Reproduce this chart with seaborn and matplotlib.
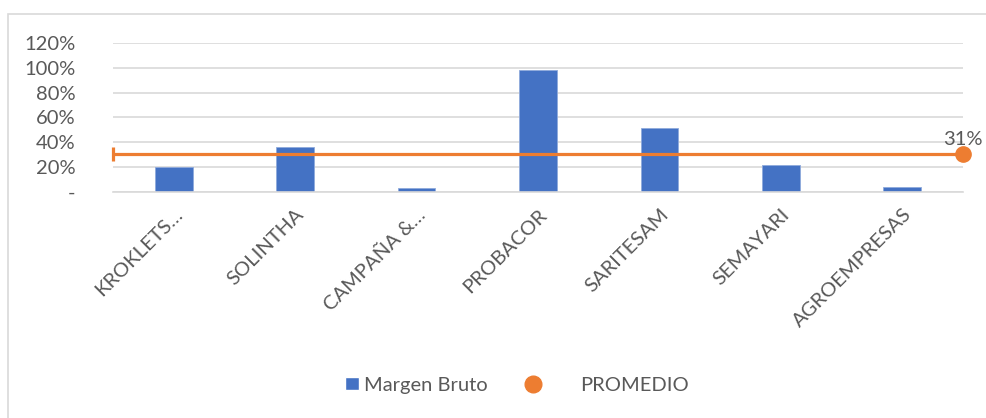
import numpy as np
import pandas as pd
import seaborn as sns
import matplotlib
matplotlib.use("Agg")
import matplotlib.pyplot as plt
from matplotlib.lines import Line2D
from matplotlib.patches import Rectangle, Patch

empresas = ["KROKLETS…", "SOLINTHA", "CAMPAÑA &…", "PROBACOR",
            "SARITESAM", "SEMAYARI", "AGROEMPRESAS"]
margen_bruto = [0.205, 0.365, 0.03, 0.985, 0.515, 0.215, 0.04]
promedio = 0.31
yticks = [0, 0.2, 0.4, 0.6, 0.8, 1.0, 1.2]
ytick_labels = ["-", "20%", "40%", "60%", "80%", "100%", "120%"]

AZUL = "#4472C4"
NARANJA = "#ED7D31"
GRIS_TXT = "#595959"
GRIS_LIN = "#D9D9D9"
FS = 14.5

sns.set_style("white")
plt.rcParams["font.family"] = ["Lato", "DejaVu Sans"]

fig = plt.figure(figsize=(9.87, 4.18), dpi=100)
ax = fig.add_axes([113 / 987, 1 - 192 / 418, 850 / 987, 149 / 418])

df = pd.DataFrame({"empresa": empresas, "margen": margen_bruto})
sns.barplot(data=df, x="empresa", y="margen", color=AZUL, width=0.31,
            saturation=1, ax=ax, edgecolor="#8FAADC", linewidth=0.6)

# linea de promedio a todo el ancho
ax.plot([-0.5, 6.5], [promedio, promedio], color=NARANJA, lw=2.3,
        solid_capstyle="butt", zorder=4, clip_on=False)
ax.plot([-0.5], [promedio], marker="|", color=NARANJA, ms=10, mew=2.3,
        zorder=5, clip_on=False)
ax.plot([6.5], [promedio], marker="o", color=NARANJA, ms=11, zorder=5,
        clip_on=False)
ax.annotate(f"{promedio:.0%}", (6.5, promedio), xytext=(0, 4),
            textcoords="offset points", ha="center", va="bottom",
            fontsize=FS, color=GRIS_TXT)

ax.set_xlim(-0.5, 6.5)
ax.set_ylim(0, 1.2)
ax.set_yticks(yticks)
ax.set_yticklabels(ytick_labels)
ax.yaxis.grid(True, color=GRIS_LIN, lw=1.2)
ax.set_axisbelow(True)
for s in ["top", "right", "left"]:
    ax.spines[s].set_visible(False)
ax.spines["bottom"].set_color(GRIS_LIN)
ax.spines["bottom"].set_linewidth(1.2)
ax.tick_params(axis="y", length=0, pad=27, labelsize=FS, labelcolor=GRIS_TXT)
ax.tick_params(axis="x", length=0, pad=10, labelsize=FS, labelcolor=GRIS_TXT)
plt.setp(ax.get_xticklabels(), rotation=45, ha="right",
         rotation_mode="anchor")
ax.set_xlabel("")
ax.set_ylabel("")

# leyenda en dos piezas para imitar el espaciado de Excel
ley_y = 33 / 418
fig.legend([Patch(facecolor=AZUL)], ["Margen Bruto"], loc="center left",
           bbox_to_anchor=(345 / 987, ley_y), frameon=False, fontsize=FS,
           labelcolor=GRIS_TXT, handlelength=0.68, handleheight=0.68,
           handletextpad=0.25, borderpad=0, borderaxespad=0)
fig.legend([Line2D([], [], marker="o", ls="", color=NARANJA, ms=12)],
           ["PROMEDIO"], loc="center left",
           bbox_to_anchor=(523 / 987, ley_y), frameon=False, fontsize=FS,
           labelcolor=GRIS_TXT, handlelength=1.0, handletextpad=1.85,
           borderpad=0, borderaxespad=0)

fig.patches.append(Rectangle((8.5 / 987, -0.1), 1.2, 1.1 - 14 / 418,
                             transform=fig.transFigure, fill=False,
                             edgecolor=GRIS_LIN, lw=1.2))

fig.savefig("out.png", dpi=100, facecolor="white")
